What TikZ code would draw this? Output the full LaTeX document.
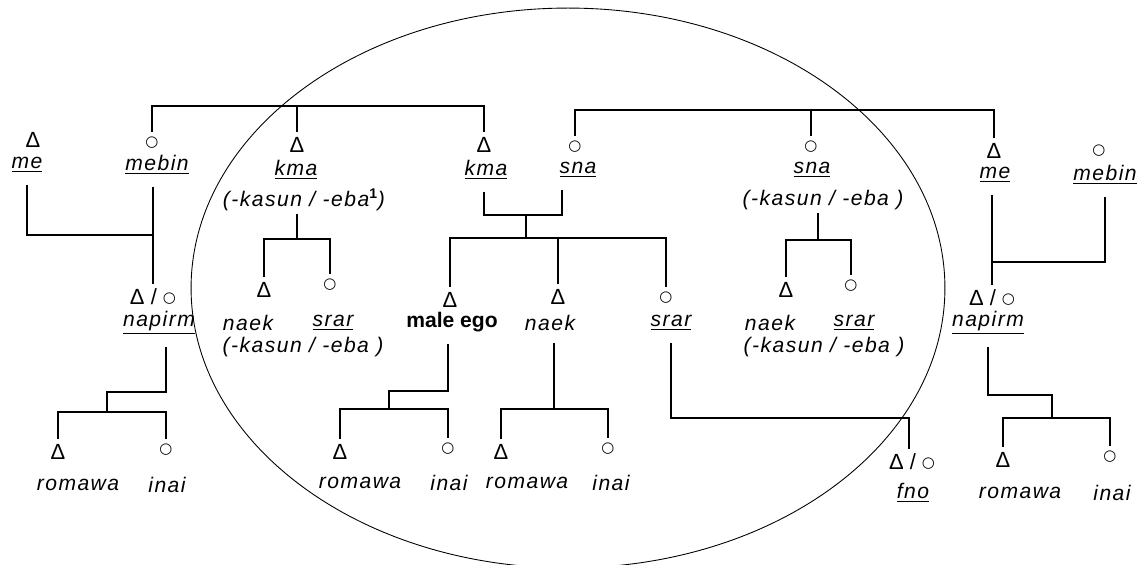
\documentclass[tikz,border=0pt]{standalone}
\usepackage{fontspec}
\setmainfont{Liberation Sans}[ItalicFeatures={LetterSpace=7}]
\newfontfamily\symfont{DejaVu Sans}
\usepackage{tikz}
\newcommand{\mal}{Δ}
\newcommand{\fem}{{\symfont\fontsize{8.5}{9}\selectfont ○}}
\newcommand{\mf}{\mal\ / \raisebox{1.5pt}{\fem}}
\tikzset{sym/.style={inner sep=0pt,outer sep=3pt,font=\fontsize{12.5}{14}\selectfont},
  nm/.style={inner sep=1pt,outer sep=6pt,font=\fontsize{12}{14}\selectfont\itshape},
  kin/.style={inner sep=1pt,outer sep=1pt,font=\fontsize{12}{14}\selectfont\itshape}}

\begin{document}
\begin{tikzpicture}[x=0.02cm,y=-0.02cm,line width=0.8pt]
        \useasboundingbox (0,0) rectangle (1144,565);
        \draw[line width=0.5pt] (568,288) ellipse [x radius=7.54cm,y radius=5.6cm];

        \node[sym] (meLs) at (33,140) {\mal};
        \node[sym] (mebinLs) at (152,143) {\fem};
        \node[sym] (kmaAs) at (297,145) {\mal};
        \node[sym] (kmaBs) at (484,145) {\mal};
        \node[sym] (snaAs) at (575,147) {\fem};
        \node[sym] (snaBs) at (811,147) {\fem};
        \node[sym] (meRs) at (994,151) {\mal};
        \node[sym] (mebinRs) at (1099,151) {\fem};
        \node[sym] (napirmLs) at (153,297) {\mf};
        \node[sym] (naekAs) at (264,290) {\mal};
        \node[sym] (srarAs) at (330,285) {\fem};
        \node[sym] (egos) at (450,300) {\mal};
        \node[sym] (naekBs) at (558,297) {\mal};
        \node[sym] (srarBs) at (666,298) {\fem};
        \node[sym] (naekCs) at (786,290) {\mal};
        \node[sym] (srarCs) at (851,286) {\fem};
        \node[sym] (napirmRs) at (992,298) {\mf};
        \node[sym] (fnos) at (912,462) {\mf};
        \node[sym] (romawaAs) at (58,452) {\mal};
        \node[sym] (inaiAs) at (166,450) {\fem};
        \node[sym] (romawaBs) at (340,452) {\mal};
        \node[sym] (inaiBs) at (448,449) {\fem};
        \node[sym] (romawaCs) at (501,452) {\mal};
        \node[sym] (inaiCs) at (608,449) {\fem};
        \node[sym] (romawaDs) at (1003,460) {\mal};
        \node[sym] (inaiDs) at (1110,457) {\fem};

        \node[nm] (meL) at (27,165) {\underline{me}};
        \node[nm] (mebinL) at (157,165) {\underline{mebin}};
        \node[nm] (kmaA) at (296,170) {\underline{kma}};
        \node[kin] (kasunA) at (304,200) {(-kasun / -eba\textsuperscript{\upshape\bfseries 1})};
        \node[nm] (kmaB) at (486,170) {\underline{kma}};
        \node[nm] (snaA) at (578,170) {\underline{sna}};
        \node[nm] (snaB) at (812,170) {\underline{sna}};
        \node[kin] (kasunB) at (823,200) {(-kasun / -eba )};
        \node[nm] (meR) at (995,175) {\underline{me}};
        \node[nm] (mebinR) at (1105,175) {\underline{mebin}};
        \node[nm] (napirmL) at (159,323) {\underline{napirm}};
        \node[nm] (naekA) at (248,323) {naek};
        \node[nm] (srarA) at (333,323) {\underline{srar}};
        \node[kin] (kasunC) at (303,347) {(-kasun / -eba )};
        \node[nm] (egon) at (452,322) {\upshape\bfseries male ego};
        \node[nm] (naekB) at (550,323) {naek};
        \node[nm] (srarB) at (671,323) {\underline{srar}};
        \node[nm] (naekC) at (770,323) {naek};
        \node[nm] (srarC) at (854,323) {\underline{srar}};
        \node[kin] (kasunD) at (824,347) {(-kasun / -eba )};
        \node[nm] (napirmR) at (988,323) {\underline{napirm}};
        \node[nm] (fno) at (913,493) {\underline{fno}};
        \node[nm] (romawaA) at (78,485) {romawa};
        \node[nm] (inaiA) at (167,485) {inai};
        \node[nm] (romawaB) at (360,483) {romawa};
        \node[nm] (inaiB) at (449,483) {inai};
        \node[nm] (romawaC) at (527,483) {romawa};
        \node[nm] (inaiC) at (611,483) {inai};
        \node[nm] (romawaD) at (1020,493) {romawa};
        \node[nm] (inaiD) at (1112,493) {inai};

        \coordinate (topA) at (0,106);
        \coordinate (topB) at (0,110);
        \coordinate (marL) at (0,235);
        \coordinate (marR) at (0,262);
        \coordinate (barA) at (297,239);
        \coordinate (marM) at (526,215);
        \coordinate (marMr) at (562,215);
        \coordinate (barM) at (526,238);
        \coordinate (barB) at (818,240);
        \coordinate (kinkL) at (107,392);
        \coordinate (barL) at (107,412);
        \coordinate (kinkE) at (389,391);
        \coordinate (barE) at (389,409);
        \coordinate (barN) at (554,409);
        \coordinate (kinkF) at (909,418);
        \coordinate (kinkR) at (1052,395);
        \coordinate (barR) at (1052,418);

        \draw (mebinLs.north) -- (mebinLs.north |- topA) -- (kmaBs.north |- topA) -- (kmaBs.north);
        \draw (kmaAs.north) -- (kmaAs.north |- topA);
        \draw (snaAs.north) -- (snaAs.north |- topB) -- (meRs.north |- topB) -- (meRs.north);
        \draw (snaBs.north) -- (snaBs.north |- topB);
        \draw (meL.south) |- (napirmLs.north |- marL);
        \draw (mebinL.south -| napirmLs) -- (napirmLs.north);
        \draw (mebinR.south) |- (napirmRs.north |- marR);
        \draw (meR.south -| napirmRs) -- (napirmRs.north);
        \draw (kasunA.south -| barA) -- (barA);
        \draw (naekAs.north) |- (barA) -| (srarAs.north);
        \draw (kmaB.south -| kmaBs) |- (marMr) -- (marMr |- snaA.south);
        \draw (marM) -- (barM);
        \draw (egos.north) |- (barM) -| (srarBs.north);
        \draw (naekBs.north) -- (naekBs.north |- barM);
        \draw (kasunB.south -| barB) -- (barB);
        \draw (naekCs.north) |- (barB) -| (srarCs.north);
        \draw (napirmL.south -| inaiAs) |- (kinkL) -- (barL);
        \draw (romawaAs.north) |- (barL) -| (inaiAs.north);
        \draw (egon.south -| inaiBs) |- (kinkE) -- (barE);
        \draw (romawaBs.north) |- (barE) -| (inaiBs.north);
        \draw (naekB.south -| barN) -- (barN);
        \draw (romawaCs.north) |- (barN) -| (inaiCs.north);
        \draw (srarB.south) |- (kinkF) -- (kinkF |- fnos.north);
        \draw (napirmR.south) |- (kinkR) -- (barR);
        \draw (romawaDs.north) |- (barR) -| (inaiDs.north);
\end{tikzpicture}
\end{document}
